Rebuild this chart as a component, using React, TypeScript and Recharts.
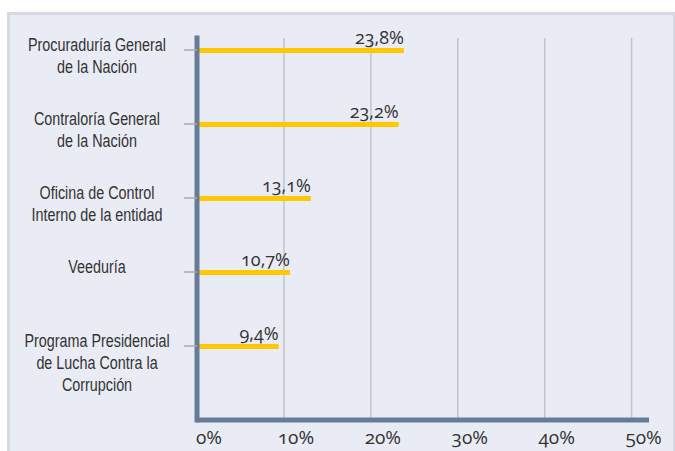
import React from "react";
import { BarChart, Bar, XAxis, YAxis, CartesianGrid, LabelList } from "recharts";

const categories = [
  "Procuraduría General\nde la Nación",
  "Contraloría General\nde la Nación",
  "Oficina de Control\nInterno de la entidad",
  "Veeduría",
  "Programa Presidencial\nde Lucha Contra la\nCorrupción",
];
const values = [23.8, 23.2, 13.1, 10.7, 9.4];
const xTicks = [0, 10, 20, 30, 40, 50];

const data = categories.map((name, i) => ({ name, value: values[i] }));

const numFont = "'Open Sans', 'Noto Sans', sans-serif";
const labelFont = "'Liberation Sans', Arial, sans-serif";
const axisColor = "#667b98";

const fmt = (v: number) => v.toFixed(1).replace(".", ",") + "%";

// narrow sans look: squeeze Liberation Sans horizontally
function CategoryTick({ x, y, payload }: any) {
  const lines = String(payload.value).split("\n");
  return (
    <text
      transform={`translate(${x - 86},${y + 1}) scale(0.82,1)`}
      x={0}
      y={0}
      textAnchor="middle"
      fill="#333"
      fontFamily={labelFont}
      fontSize={17.5}
    >
      {lines.map((l, i) => (
        <tspan key={i} x={0} dy={i === 0 ? 0 : 22}>
          {l}
        </tspan>
      ))}
    </text>
  );
}

function PercentTick({ x, y, payload }: any) {
  return (
    <text
      x={x + 12}
      y={y + 24}
      textAnchor="middle"
      fill="#333"
      fontFamily={numFont}
      fontSize={19}
      style={{ fontVariantNumeric: "oldstyle-nums" }}
    >
      {payload.value}%
    </text>
  );
}

function ValueLabel({ x, y, width, value }: any) {
  return (
    <text
      x={x + width}
      y={y - 4}
      textAnchor="end"
      fill="#333"
      fontFamily={numFont}
      fontSize={18}
      style={{ fontVariantNumeric: "oldstyle-nums" }}
    >
      {fmt(value)}
    </text>
  );
}

export default function App() {
  return (
    <div style={{ position: "absolute", left: 0, top: 0, width: 675, height: 451, background: "#fff" }}>
      <div
        style={{
          position: "absolute",
          left: 7,
          top: 12,
          width: 668,
          height: 439,
          boxSizing: "border-box",
          background: "#e9ecf4",
          borderTop: "3px solid #d7d8e2",
          borderLeft: "3px solid #d7d8e2",
          borderRight: "2px solid #d7d8e2",
        }}
      />
      <div style={{ position: "absolute", left: 0, top: 0 }}>
        <BarChart
          width={675}
          height={451}
          data={data}
          layout="vertical"
          margin={{ top: 38, right: 26, left: 0, bottom: 0 }}
        >
          <CartesianGrid horizontal={false} syncWithTicks stroke="#c3c4c8" strokeWidth={1.5} />
          <XAxis
            type="number"
            domain={[0, 52]}
            ticks={xTicks}
            height={31}
            tickLine={false}
            tickSize={0}
            tickMargin={0}
            axisLine={{ stroke: axisColor, strokeWidth: 5 }}
            tick={<PercentTick />}
          />
          <YAxis
            type="category"
            dataKey="name"
            width={197}
            interval={0}
            tickSize={13}
            tickMargin={1}
            padding={{ top: -25, bottom: 37 }}
            tickLine={{ stroke: "#aaaaaa", strokeWidth: 1.5 }}
            axisLine={{ stroke: axisColor, strokeWidth: 5, strokeLinecap: "square" }}
            tick={<CategoryTick />}
          />
          <Bar dataKey="value" fill="#ffc800" barSize={5} isAnimationActive={false}>
            <LabelList dataKey="value" content={<ValueLabel />} />
          </Bar>
        </BarChart>
      </div>
    </div>
  );
}
